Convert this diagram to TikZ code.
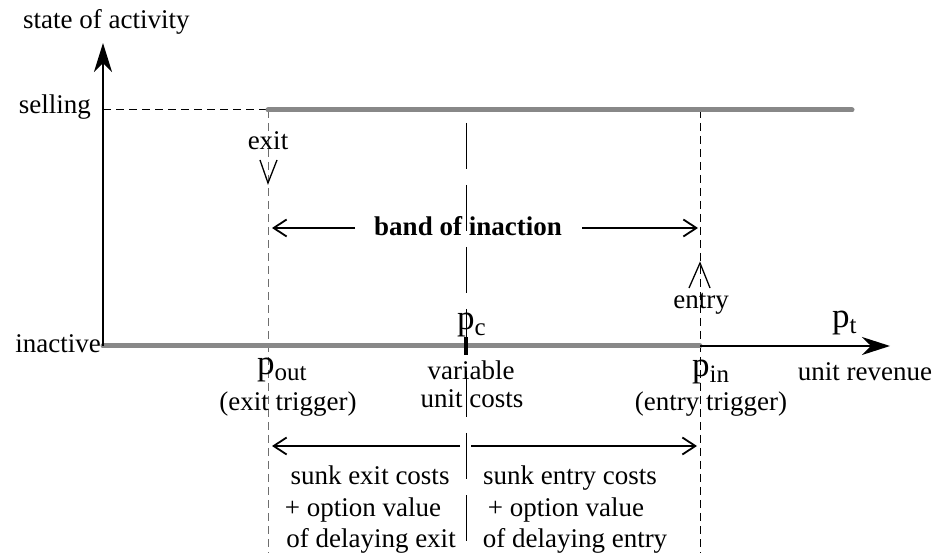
\documentclass[tikz,border=0pt]{standalone}
\usepackage{fontspec}
\setmainfont{Liberation Serif}
\usetikzlibrary{arrows.meta}
\definecolor{actgray}{RGB}{136,136,136}
\definecolor{dgray}{RGB}{110,110,110}
\newcommand{\psub}[1]{{\fontsize{35}{35}\selectfont p}\raisebox{-6pt}{\fontsize{25}{25}\selectfont #1}}
\begin{document}
\begin{tikzpicture}[x=1pt,y=-1pt,
  lbl/.style={inner sep=0pt, font=\fontsize{27}{31}\selectfont},
  boldlbl/.style={inner sep=0pt, font=\bfseries\fontsize{27}{31}\selectfont},
  statel/.style={line width=5pt, actgray, line cap=round},
  guide/.style={line width=1pt, dash pattern=on 8pt off 5pt},
  axisl/.style={line width=2.5pt, -{Stealth[length=29pt,width=18pt,inset=9pt]}},
  barb/.style={line width=1.8pt, -{Straight Barb[length=13pt,width=17pt]}},
  tick/.style={line width=1.3pt}]
\useasboundingbox (0,0) rectangle (938,553);
% coordinates
\coordinate (O) at (103,346);
\coordinate (Ytop) at (103,43);
\coordinate (S0) at (103,110);
\coordinate (Sout) at (268,110);
\coordinate (Send) at (852,110);
\coordinate (Iin) at (700,346);
\coordinate (Xend) at (890,346);
\coordinate (ExB) at (268,553);
\coordinate (EnT) at (700,110);
\coordinate (EnB) at (700,553);
\coordinate (Ct) at (466,123);
\coordinate (Cb) at (466,553);
% guides
\draw[guide] (S0) -- (Sout);
\draw[guide, dgray] (Sout) -- (ExB);
\draw[guide] (EnT) -- (EnB);
\draw[line width=1pt, dash pattern=on 46pt off 16pt] (Ct) -- (Cb);
% states
\draw[statel] (Sout) -- (Send);
\draw[statel] (O) -- (Iin);
% axes
\draw[axisl] (O) -- (Ytop);
\draw[line width=1.5pt, -{Stealth[length=28pt,width=18pt,inset=9pt]}] (Iin) -- (Xend);
\draw[line width=4pt] (466,337) -- (466,355);
% exit / entry marks
\draw[tick] (260,160) -- (268,183) -- (277,160);
\draw[tick] (689,288) -- (700,263) -- (710,288);
% band arrows
\draw[barb] (355,228) -- (272,228);
\draw[barb] (582,228) -- (698,228);
\draw[barb] (460,446) -- (272,446);
\draw[barb] (471,446) -- (697,446);
% texts
\node[lbl, anchor=base west] (soa) at (23,29) {state of activity};
\node[lbl, anchor=base east] (sell) at (91,114) {selling};
\node[lbl, anchor=base east] (inact) at (101,353) {inactive};
\node[lbl, anchor=base] (exitl) at (268,150) {exit};
\node[lbl, anchor=base] (entryl) at (701,309) {entry};
\node[boldlbl, anchor=base] (band) at (468,236) {band of inaction};
\node[lbl, anchor=base west] (pout) at (257,375) {\psub{out}};
\node[lbl, anchor=base west] (pc) at (457,330) {\psub{c}};
\node[lbl, anchor=base west] (pin) at (692,377) {\psub{in}};
\node[lbl, anchor=base west] (pt) at (832,328) {\psub{t}};
\node[lbl, anchor=base] (unitrev) at (865,381) {unit revenue};
\node[lbl, anchor=base] (exitt) at (288,411) {(exit trigger)};
\node[lbl, anchor=base] (entryt) at (711,411) {(entry trigger)};
\node[lbl, anchor=base] (var1) at (471,380) {variable};
\node[lbl, anchor=base] (var2) at (472,408) {unit costs};
\node[lbl, anchor=base] (se1) at (370,485) {sunk exit costs};
\node[lbl, anchor=base] (se2) at (363,516) {+ option value};
\node[lbl, anchor=base] (se3) at (371,547) {of delaying exit};
\node[lbl, anchor=base] (sn1) at (570,485) {sunk entry costs};
\node[lbl, anchor=base] (sn2) at (566,516) {+ option value};
\node[lbl, anchor=base] (sn3) at (575,547) {of delaying entry};
\end{tikzpicture}
\end{document}
